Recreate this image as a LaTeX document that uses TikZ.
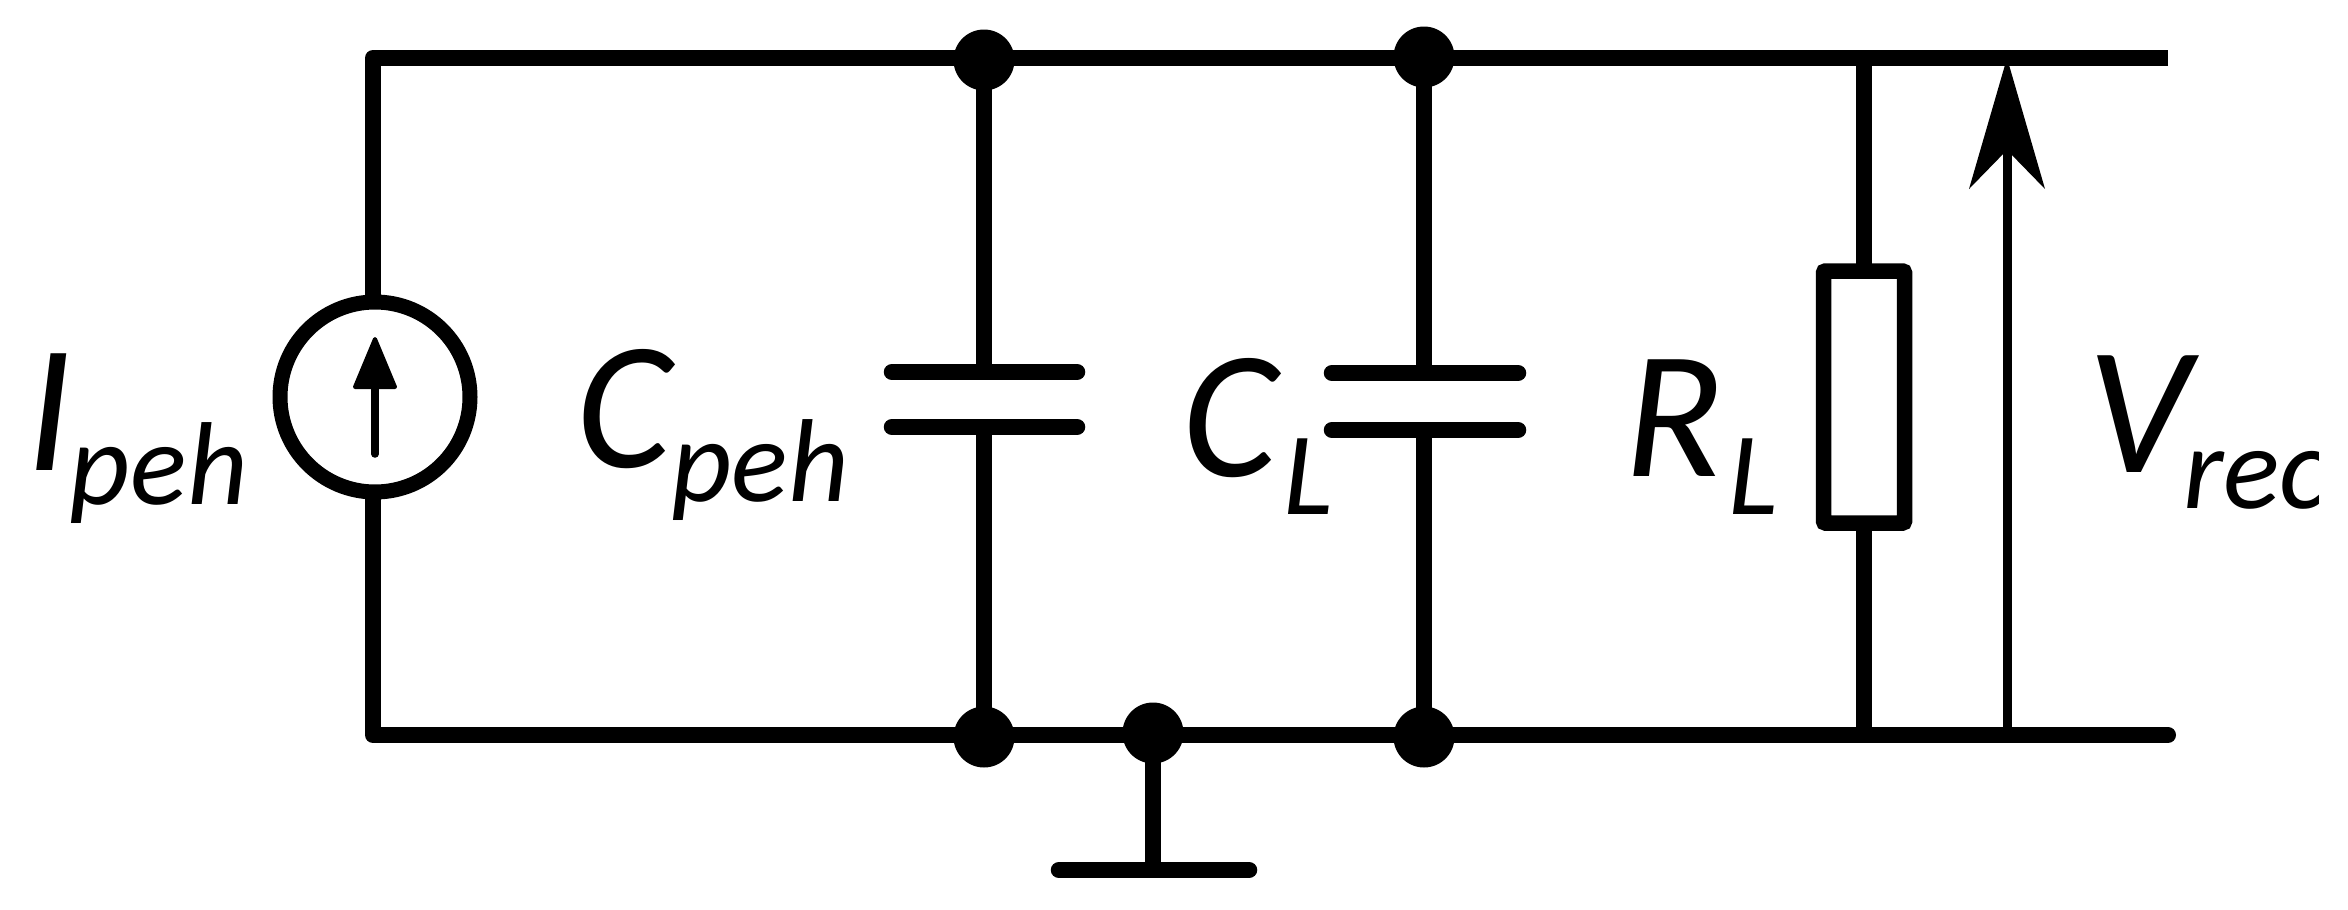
\documentclass[tikz,border=0pt]{standalone}
\usepackage{fontspec}
\setmainfont{Carlito}
\newcommand{\lab}[5]{\makebox[#2pt][l]{\fontsize{182}{182}\selectfont\itshape #1}\raisebox{#3pt}{\fontsize{118}{118}\selectfont\itshape #4}#5}
\tikzset{
  wire/.style={line width=15.5pt,line cap=butt},
  hwire/.style={line width=16.5pt,line cap=round},
  junction/.style={circle,fill=black,draw=none,minimum size=61pt,inner sep=0pt,outer sep=-3pt},
  source/.style={circle,draw=black,line width=15pt,fill=white,minimum size=190pt,inner sep=0pt},
  resbox/.style={rectangle,draw=black,line width=15.5pt,fill=white,rounded corners=2pt,minimum width=81pt,minimum height=252pt,inner sep=0pt},
  lbl/.style={anchor=base west,inner sep=0pt,outer sep=0pt,text=black}
}
\begin{document}
\begin{tikzpicture}[x=1pt,y=-1pt]
\useasboundingbox (0,0) rectangle (2348,910);
\coordinate (tl) at (373,58);
\coordinate (bl) at (373,735);
\coordinate (tr) at (2168,58);
\coordinate (br) at (2168,735);
\node[junction] (jt1) at (984,60) {};
\node[junction] (jt2) at (1424,57) {};
\node[junction] (jb1) at (984,737) {};
\node[junction] (jb2) at (1424,737) {};
\node[junction] (jg) at (1153,733) {};
\coordinate (rt) at (1864,58);
\coordinate (rb) at (1864,735);
\coordinate (vb) at (2007,735);
% rails and left side
\draw[line width=16pt,line join=round] (tr) -- (tl) -- (bl) -- (br);
\draw[line width=16pt,line cap=round] (2100,735) -- (br);
% capacitors
\coordinate (c1a) at (984,372);
\coordinate (c1b) at (984,427);
\coordinate (c2a) at (1424,373);
\coordinate (c2b) at (1424,430);
\draw[wire] (jt1) -- (c1a);
\draw[wire] (c1b) -- (jb1);
\draw[wire] (jt2) -- (c2a);
\draw[wire] (c2b) -- (jb2);
\draw[hwire] (892,372) -- (1077,372);
\draw[hwire] (892,427) -- (1077,427);
\draw[hwire] (1332,373) -- (1518,373);
\draw[hwire] (1332,430) -- (1518,430);
% resistor
\draw[wire] (rt) -- (rb);
\node[resbox] (res) at (1864,397) {};
% current source
\node[source] (src) at (375,397) {};
\coordinate (ia) at (375,454);
\coordinate (ib) at (375,385);
\draw[line width=7.5pt,line cap=round] (ia) -- (ib);
\fill[draw=black,line width=4pt,line join=round] (375,339) -- (395,387) -- (355,387) -- cycle;
% voltage arrow
\draw[line width=9pt] (vb) -- (2007,145);
\fill (2007,58) -- (2045,189) -- (2007,150) -- (1969,189) -- cycle;
% ground
\coordinate (gb) at (1153,870);
\draw[wire] (jg) -- (gb);
\draw[hwire] (1059,870) -- (1249,870);
% labels
\node[lbl] (li) at (27,470) {\lab{I}{43}{-34}{peh}{}};
\node[lbl] (lc) at (576,467) {\lab{C}{95}{-34}{peh}{}};
\node[lbl] (lcl) at (1182,476) {\lab{C}{101}{-38}{L}{}};
\node[lbl] (lr) at (1624,476) {\lab{R}{104}{-38}{L}{}};
\begin{scope}
\clip (2050,300) rectangle (2318,600);
\node[lbl] (lv) at (2087,472) {\lab{V}{96}{-36}{rec}{}};
\end{scope}
\end{tikzpicture}
\end{document}
